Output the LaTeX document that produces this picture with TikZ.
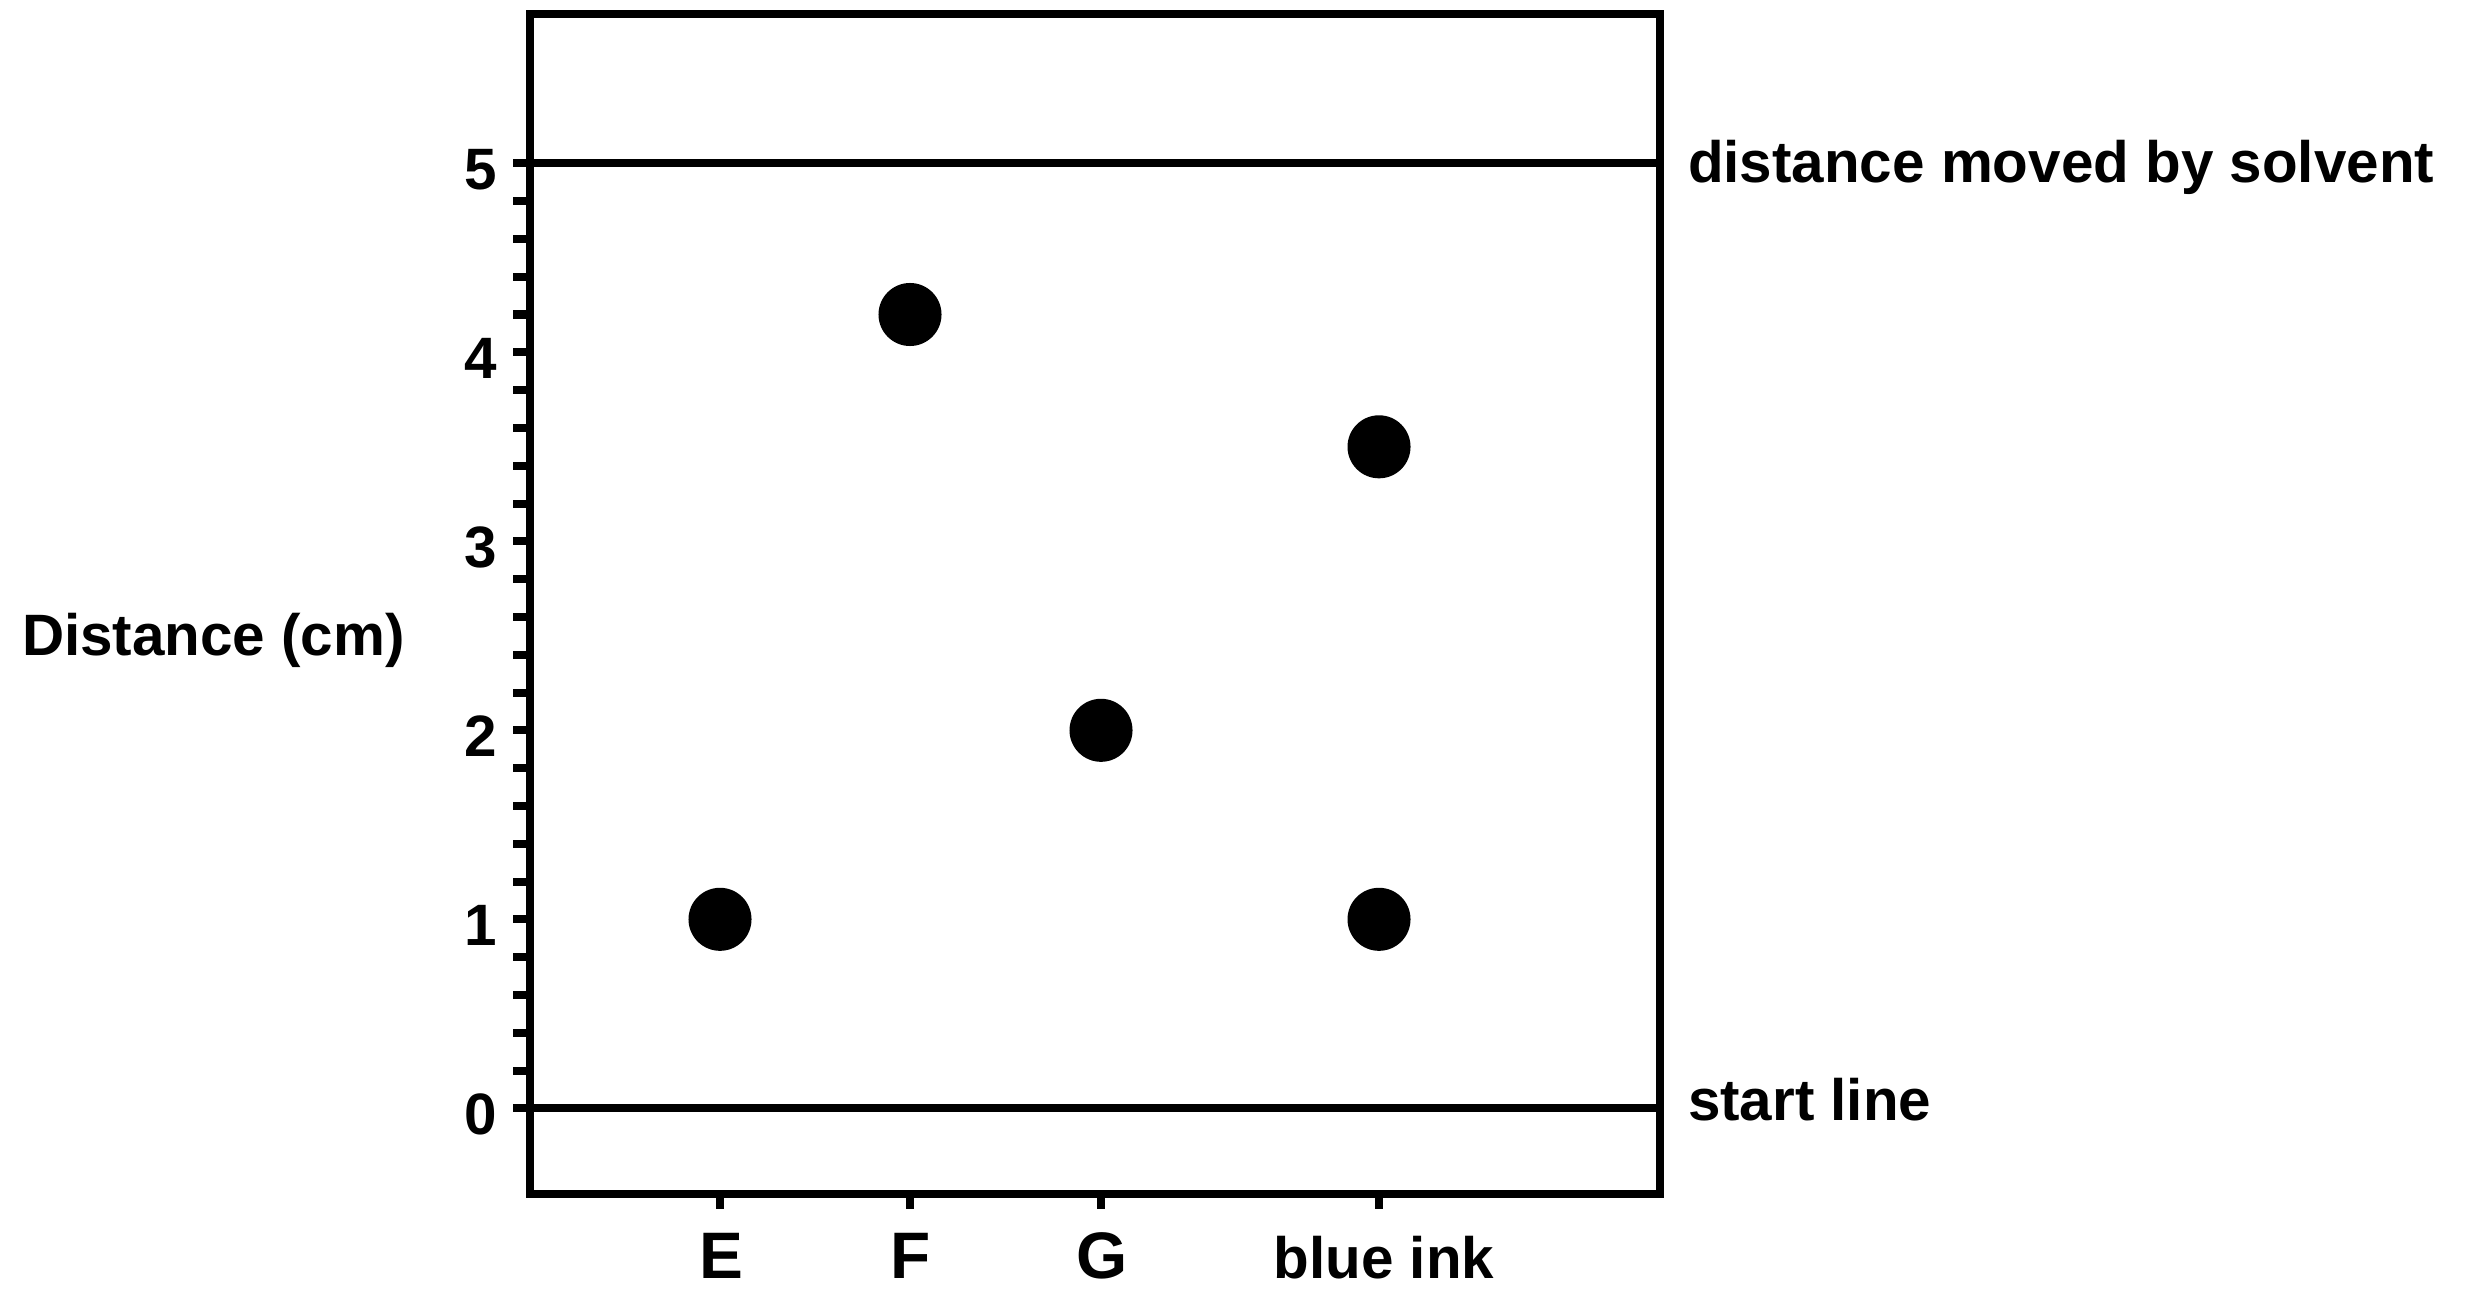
\documentclass[tikz,border=0pt]{standalone}
\usepackage{fontspec}
\setmainfont{Liberation Sans}
\begin{document}
\begin{tikzpicture}[x=0.01cm,y=-0.01cm, line width=0.08cm,
  lbl/.style={font=\fontsize{16.6}{19}\selectfont\bfseries, inner sep=0},
  big/.style={font=\fontsize{18.7}{22}\selectfont\bfseries, inner sep=0},
  spot/.style={circle, fill=black, minimum size=0.63cm, inner sep=0},
  tickline/.style={line width=0.08cm}]
\useasboundingbox (0,0) rectangle (2470,1288);
% plate
\coordinate (tl) at (530,14.5);
\coordinate (br) at (1660,1194);
\draw (tl) rectangle (br);
% solvent front and start line
\coordinate (s5l) at (513,163.3);
\coordinate (s5r) at (1660,163.3);
\coordinate (s0l) at (513,1108.3);
\coordinate (s0r) at (1660,1108.3);
\draw (s5l) -- (s5r);
\draw (s0l) -- (s0r);
% y ticks
\foreach \i in {1,...,24} {
  \draw[tickline] (513,{1108.3-\i*37.8}) -- (530,{1108.3-\i*37.8});
}
% y tick labels
\foreach \v in {0,...,5} {
  \node[lbl, anchor=base east] (yl\v) at (501,{1108.3-\v*189+26}) {\v};
}
% x ticks
\foreach \x/\n in {720/E,910/F,1101/G,1379/B} {
  \coordinate (xt\n) at (\x,1194);
  \draw[tickline] (xt\n) -- ++(0,15);
}
% x labels
\node[big, anchor=base] (lE) at (721,1278.3) {E};
\node[big, anchor=base] (lF) at (911,1278.3) {F};
\node[big, anchor=base] (lG) at (1102,1278.3) {G};
\node[lbl, anchor=base] (lB) at (1384,1278.3) {blue ink};
% axis title
\node[lbl, anchor=base west] (ytitle) at (18,655) {Distance (cm)};
% right labels
\node[lbl, anchor=base west] (front) at (1684,182.7) {distance moved by solvent};
\node[lbl, anchor=base west] (start) at (1684,1120) {start line};
% spots
\node[spot] (dE) at (720,919.3) {};
\node[spot] (dF) at (910,{1108.3-4.2*189}) {};
\node[spot] (dG) at (1101,{1108.3-2*189}) {};
\node[spot] (dB1) at (1379,{1108.3-3.5*189}) {};
\node[spot] (dB2) at (1379,919.3) {};
\end{tikzpicture}
\end{document}
